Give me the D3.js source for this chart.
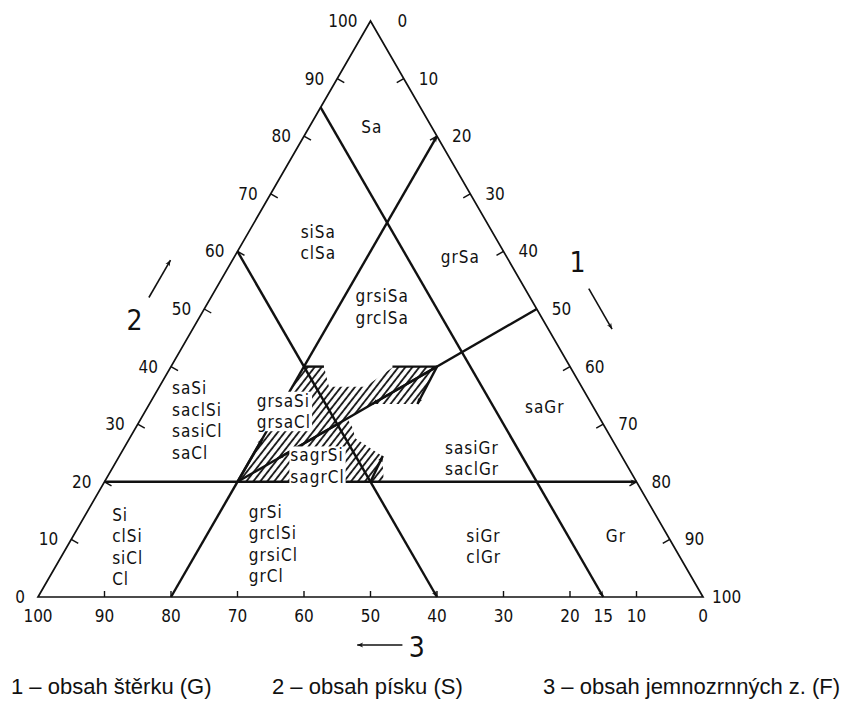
<!DOCTYPE html>
<html>
<head>
<meta charset="utf-8">
<script src="https://cdn.jsdelivr.net/npm/d3@7"></script>
<style>
body { margin: 0; background: #fff; }
svg text { fill: #111; }
</style>
</head>
<body>
<div id="chart"></div>
<script>
'use strict';
// ternary G (gravel, axis 1) / S (sand, axis 2) / F (fines, axis 3) - F = 100 - G - S
var ticks = [0, 10, 20, 30, 40, 50, 60, 70, 80, 90, 100];
var extraBottomTicks = [15];

// class boundaries as [G, S] compositions
var boundaries = [
    {from: [0, 20], to: [80, 20], arrow: true},   // S = 20
    {from: [20, 0], to: [20, 80], arrow: true},   // G = 20
    {from: [0, 85], to: [85, 0], arrow: true},    // F = 15
    {from: [0, 60], to: [60, 0], arrow: true},    // F = 40
    {from: [50, 50], to: [20, 20], arrow: false}  // G = S
];

// transition zone (hatched)
var hatchZone = [[20, 20], [20, 40], [23, 40], [25.5, 36.5], [31, 36.5], [33.5, 40], [40, 40],
    [40.5, 33.5], [33.5, 33.5], [31, 31], [32.5, 29.5], [34, 27.5], [39.5, 24.5], [42, 20]];
var hatchEdges = [
    {from: [20, 40], to: [23, 40], arrow: false},
    {from: [33.3, 40], to: [40, 40], arrow: false},
    {from: [40, 40], to: [40.3, 33.5], arrow: true},
    {from: [40, 20], to: [39.6, 24.5], arrow: true},
    {from: [20, 20], to: [20, 27.5], arrow: true},
    {from: [40, 40], to: [33.5, 33.5], arrow: true},
    {from: [30, 30], to: [24, 24], arrow: true}
];

var regionNames = [
    ["Sa"], ["siSa", "clSa"], ["grsiSa", "grclSa"], ["grSa"],
    ["saSi", "saclSi", "sasiCl", "saCl"], ["grsaSi", "grsaCl"], ["sagrSi", "sagrCl"],
    ["saGr"], ["sasiGr", "saclGr"], ["Si", "clSi", "siCl", "Cl"],
    ["grSi", "grclSi", "grsiCl", "grCl"], ["siGr", "clGr"], ["Gr"]
];
var regionAnchors = [
    [9.4, 81.6], [11.4, 61.5], [26.6, 50.3], [34, 59],
    [4.85, 30.6], [16.8, 32.2], [26.6, 22.7],
    [59.7, 33], [49.2, 24], [6.8, 8.7],
    [27.1, 9.2], [60, 8.8], [81.6, 10.6]
];
var regionAlign = ["middle", "middle", "middle", "middle", "start", "start", "start",
    "middle", "start", "start", "start", "start", "middle"];

var legendItems = ["1 \u2013 obsah \u0161t\u011brku (G)", "2 \u2013 obsah p\u00edsku (S)", "3 \u2013 obsah jemnozrnn\u00fdch z. (F)"];

var width = 851, height = 702;
var svg = d3.select("#chart").append("svg")
    .attr("width", width)
    .attr("height", height);

var x = d3.scaleLinear().domain([0, 100]).range([38, 703]);
var y = d3.scaleLinear().domain([0, 100]).range([597, 21]);
var pt = function (c) {
    return [x(c[0] + c[1] / 2), y(c[1])];
};
var line = d3.line();

var defs = svg.append("defs");
defs.append("marker")
    .attr("id", "arr")
    .attr("viewBox", "0 0 10 10")
    .attr("refX", 10).attr("refY", 5)
    .attr("markerWidth", 9).attr("markerHeight", 6)
    .attr("markerUnits", "userSpaceOnUse")
    .attr("orient", "auto")
    .append("path")
    .attr("d", "M0,1 L10,5 L0,9 L3,5 Z")
    .attr("fill", "#111");
var pat = defs.append("pattern")
    .attr("id", "hatch")
    .attr("patternUnits", "userSpaceOnUse")
    .attr("width", 5.5).attr("height", 6)
    .attr("patternTransform", "rotate(38)");
pat.append("line")
    .attr("x1", 1).attr("y1", 0).attr("x2", 1).attr("y2", 6)
    .attr("stroke", "#111").attr("stroke-width", 1.8);

// hatched zone
svg.append("path")
    .attr("d", line(hatchZone.map(pt)) + "Z")
    .attr("fill", "url(#hatch)")
    .attr("stroke", "none");

// triangle frame
var corners = [[0, 0], [100, 0], [0, 100]];
svg.append("path")
    .attr("d", line(corners.map(pt)) + "Z")
    .attr("fill", "none")
    .attr("stroke", "#111")
    .attr("stroke-width", 1.7);

// ticks
var tickG = svg.append("g").attr("stroke", "#111").attr("stroke-width", 1.4);
ticks.filter(function (v) { return v > 0 && v < 100; }).forEach(function (v) {
    var l = pt([0, v]);
    tickG.append("line").attr("x1", l[0]).attr("y1", l[1]).attr("x2", l[0] + 7).attr("y2", l[1] + 4);
    var r = pt([v, 100 - v]);
    tickG.append("line").attr("x1", r[0]).attr("y1", r[1]).attr("x2", r[0] - 7).attr("y2", r[1] + 4);
    var b = pt([100 - v, 0]);
    tickG.append("line").attr("x1", b[0]).attr("y1", b[1]).attr("x2", b[0]).attr("y2", b[1] - 6);
});

// boundaries
svg.selectAll(".bnd")
    .data(boundaries)
    .enter()
    .append("path")
    .attr("class", "bnd")
    .attr("d", function (d) { return line([pt(d.from), pt(d.to)]); })
    .attr("stroke", "#111")
    .attr("stroke-width", 2.4)
    .attr("fill", "none")
    .attr("marker-end", function (d) { return d.arrow ? "url(#arr)" : null; });

svg.selectAll(".hedge")
    .data(hatchEdges)
    .enter()
    .append("path")
    .attr("class", "hedge")
    .attr("d", function (d) { return line([pt(d.from), pt(d.to)]); })
    .attr("stroke", "#111")
    .attr("stroke-width", 2.4)
    .attr("fill", "none")
    .attr("marker-end", function (d) { return d.arrow ? "url(#arr)" : null; });

// tick labels
var numFont = "'DejaVu Sans Condensed', 'DejaVu Sans', sans-serif";
var labG = svg.append("g")
    .attr("font-family", numFont)
    .attr("font-size", 17);
ticks.forEach(function (v) {
    var l = pt([0, v]);
    labG.append("text")
        .attr("x", l[0] - 13).attr("y", l[1])
        .attr("dy", "0.35em")
        .attr("text-anchor", "end")
        .text(v);
    var r = pt([v, 100 - v]);
    var dx = v === 0 ? 27 : (v === 100 ? 9 : 15);
    labG.append("text")
        .attr("x", r[0] + dx).attr("y", r[1])
        .attr("dy", "0.35em")
        .text(v);
});
ticks.concat(extraBottomTicks).forEach(function (v) {
    var b = pt([100 - v, 0]);
    labG.append("text")
        .attr("x", b[0]).attr("y", b[1] + 19)
        .attr("dy", "0.35em")
        .attr("text-anchor", "middle")
        .text(v);
});

// region names with white backing
var lineH = 21.5;
var regG = svg.append("g")
    .attr("font-family", numFont)
    .attr("font-size", 17)
    .attr("letter-spacing", 1);
regionNames.forEach(function (names, i) {
    var p = pt(regionAnchors[i]);
    var g = regG.append("g");
    var t = g.append("text")
        .attr("text-anchor", regionAlign[i])
        .attr("x", p[0])
        .attr("y", p[1] - (names.length - 1) * lineH / 2);
    names.forEach(function (n, k) {
        t.append("tspan")
            .attr("x", p[0])
            .attr("dy", k === 0 ? "0.35em" : lineH)
            .text(n);
    });
    var bb = t.node().getBBox();
    g.insert("rect", "text")
        .attr("x", bb.x - 1).attr("y", bb.y + 1)
        .attr("width", bb.width + 2).attr("height", bb.height - 2)
        .attr("fill", "#fff");
});

// axis markers 1, 2, 3
var axG = svg.append("g").attr("font-family", numFont).attr("font-size", 28);
var a2 = [pt([0, 52]), pt([0, 58.5])];
axG.append("path")
    .attr("d", line(a2.map(function (p) { return [p[0] - 62, p[1]]; })))
    .attr("stroke", "#111").attr("stroke-width", 1.6).attr("marker-end", "url(#arr)");
var t2 = pt([0, 48]);
axG.append("text").attr("x", t2[0] - 63).attr("y", t2[1]).attr("dy", "0.35em")
    .attr("text-anchor", "middle").text("2");

var a1 = [pt([47, 53]), pt([54, 46])];
axG.append("path")
    .attr("d", line(a1.map(function (p) { return [p[0] + 62, p[1] - 3]; })))
    .attr("stroke", "#111").attr("stroke-width", 1.6).attr("marker-end", "url(#arr)");
var t1 = pt([43, 57]);
axG.append("text").attr("x", t1[0] + 64).attr("y", t1[1] - 6).attr("dy", "0.35em")
    .attr("text-anchor", "middle").text("1");

var a3 = [pt([54.8, 0]), pt([48, 0])];
axG.append("path")
    .attr("d", line(a3.map(function (p) { return [p[0], p[1] + 48]; })))
    .attr("stroke", "#111").attr("stroke-width", 1.6).attr("marker-end", "url(#arr)");
var t3 = pt([56.5, 0]);
axG.append("text").attr("x", t3[0] + 3).attr("y", t3[1] + 50).attr("dy", "0.35em")
    .attr("text-anchor", "middle").text("3");

// legend
var legendX = [11, 272, 543];
svg.append("g")
    .attr("font-family", "'Liberation Sans', Arial, sans-serif")
    .attr("font-size", 22)
    .selectAll("text")
    .data(legendItems)
    .enter()
    .append("text")
    .attr("x", function (d, i) { return legendX[i]; })
    .attr("y", 694)
    .text(function (d) { return d; });
</script>
</body>
</html>
